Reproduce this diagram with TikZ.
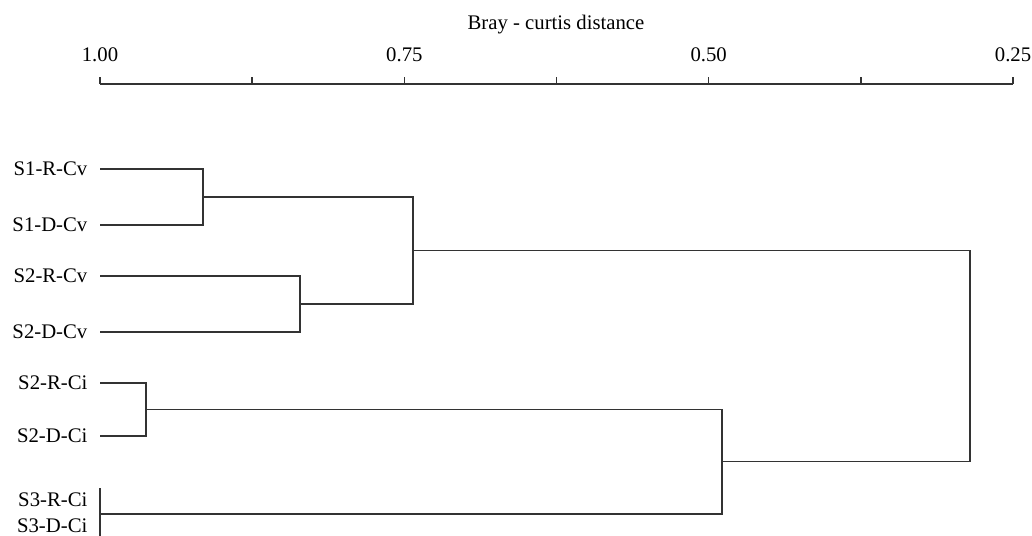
\documentclass[tikz,border=0pt]{standalone}
\usepackage{fontspec}
\setmainfont{Liberation Serif}
\usetikzlibrary{positioning,calc}
\newcommand*{\mergebracket}[4]{%
\coordinate (#1-x) at (#4,0);
\draw[link] (#2) -- (#2 -| #1-x) -- (#3 -| #1-x) -- (#3);
\coordinate (#1) at ($(#2 -| #1-x)!0.5!(#3 -| #1-x)$);
}

\begin{document}
\begin{tikzpicture}[x=0.02cm, y=-0.02cm]
		\tikzset{
			basefont/.style = {font = \fontsize{11.8}{14}\selectfont},
			link/.style = {draw = black!80, line width = 0.8pt, line join = miter},
			axis/.style = {link},
			leaf/.style = {basefont, anchor = east, inner xsep = 7pt, inner ysep = 0pt, text height = 7.8pt, text depth = 0pt},
			ticklabel/.style = {basefont, inner sep = 0pt, text height = 7.8pt, text depth = 0pt},
		};

		\useasboundingbox (0,0) rectangle (1032,535);
		\clip (0,0) rectangle (1032,535);

		% distance axis
		\node[ticklabel] (title) at (556,23) {Bray - curtis distance};
		\coordinate (a0) at (100,84);
		\coordinate (a1) at (1013,84);
		\draw[axis] (a0) -- (a1);
		\foreach \i in {0,...,6} {
			\coordinate (t\i) at ({100+152.17*\i},77);
			\draw[axis] (t\i) -- (t\i |- a0);
		}
		\foreach \i/\v in {0/1.00,2/0.75,4/0.50,6/0.25}
			\node[ticklabel, above=8.5pt of t\i] (lab\i) {\v};

		% samples
		\node[leaf] (s1rcv) at (100,169) {S1-R-Cv};
		\node[leaf] (s1dcv) at (100,225) {S1-D-Cv};
		\node[leaf] (s2rcv) at (100,276) {S2-R-Cv};
		\node[leaf] (s2dcv) at (100,332) {S2-D-Cv};
		\node[leaf] (s2rci) at (100,383) {S2-R-Ci};
		\node[leaf] (s2dci) at (100,436) {S2-D-Ci};
		\node[leaf] (s3rci) at (100,500) {S3-R-Ci};
		\node[leaf] (s3dci) at (100,526) {S3-D-Ci};
		\coordinate (s3r) at (100,488);
		\coordinate (s3d) at (100,540);

		% clusters
		\mergebracket{nS1}{s1rcv.east}{s1dcv.east}{203}
		\mergebracket{nS2v}{s2rcv.east}{s2dcv.east}{300}
		\mergebracket{nCv}{nS1}{nS2v}{413}
		\mergebracket{nS2i}{s2rci.east}{s2dci.east}{146}
		\mergebracket{nS3}{s3r}{s3d}{100}
		\mergebracket{nCi}{nS2i}{nS3}{722}
		\mergebracket{nAll}{nCv}{nCi}{970}
	\end{tikzpicture}
\end{document}
